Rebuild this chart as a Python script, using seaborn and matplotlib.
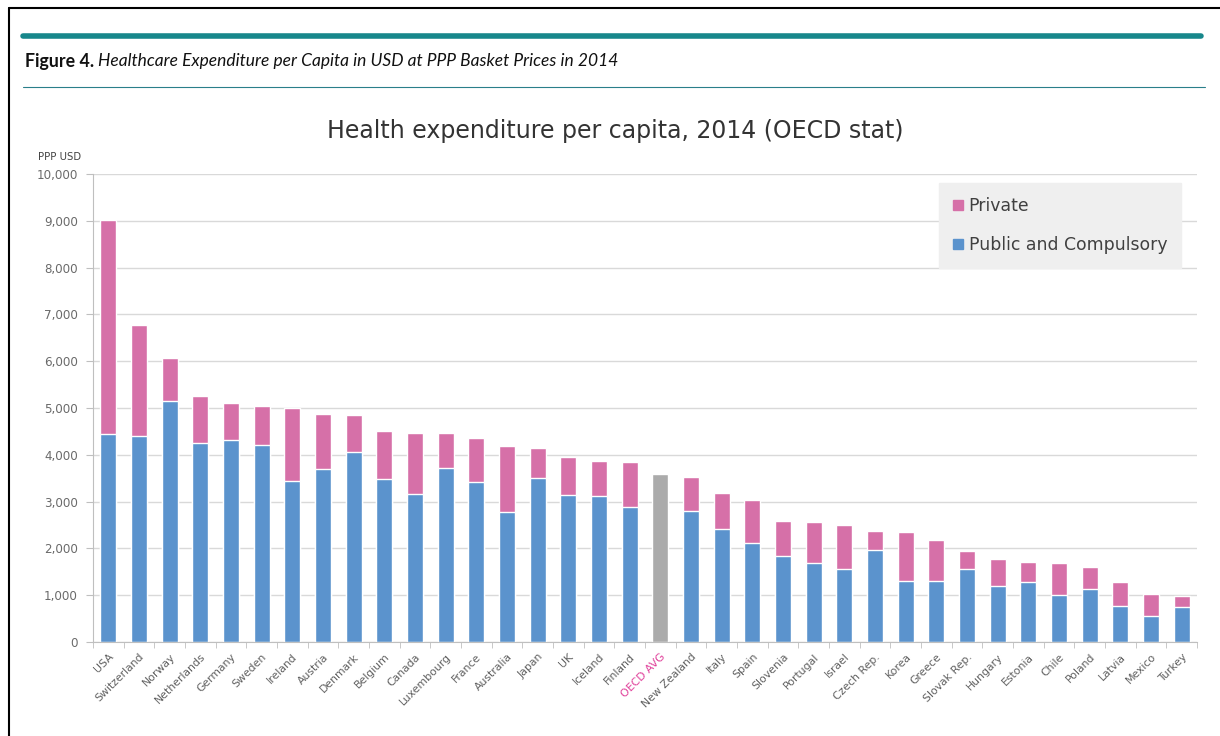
import numpy as np
import pandas as pd
import seaborn as sns
import matplotlib.pyplot as plt
from matplotlib.lines import Line2D
from matplotlib.patches import Patch
from matplotlib.ticker import FuncFormatter, FixedLocator

sns.set_style('white')
plt.rcParams['font.family'] = ['DejaVu Sans']

countries = ['USA', 'Switzerland', 'Norway', 'Netherlands', 'Germany', 'Sweden', 'Ireland',
             'Austria', 'Denmark', 'Belgium', 'Canada', 'Luxembourg', 'France', 'Australia',
             'Japan', 'UK', 'Iceland', 'Finland', 'OECD AVG', 'New Zealand', 'Italy', 'Spain',
             'Slovenia', 'Portugal', 'Israel', 'Czech Rep.', 'Korea', 'Greece', 'Slovak Rep.',
             'Hungary', 'Estonia', 'Chile', 'Poland', 'Latvia', 'Mexico', 'Turkey']
public = [4440, 4410, 5160, 4245, 4315, 4200, 3440, 3690, 4065, 3490, 3160, 3710, 3410, 2780,
          3495, 3140, 3125, 2890, np.nan, 2800, 2405, 2120, 1835, 1690, 1550, 1975, 1305, 1305,
          1570, 1190, 1285, 1000, 1140, 765, 550, 750]
private = [4580, 2360, 900, 1015, 785, 850, 1550, 1190, 775, 1020, 1310, 750, 940, 1410,
           645, 805, 750, 955, np.nan, 720, 785, 910, 755, 875, 950, 395, 1035, 870,
           380, 585, 420, 680, 465, 520, 485, 230]
oecd_avg = 3600
yticks = [0, 1000, 2000, 3000, 4000, 5000, 6000, 7000, 8000, 9000, 10000]

blue = '#5b93cd'
pink = '#d670a8'
grey_bar = '#ababab'

df = pd.DataFrame({'country': countries, 'public': public, 'private': private})
df['total'] = df['public'] + df['private']
df.loc[df['country'] == 'OECD AVG', 'total'] = oecd_avg

fig = plt.figure(figsize=(12.2, 7.36), dpi=100)
ax = fig.add_axes([93 / 1220, 94 / 736, 1104 / 1220, 468 / 736])

pal = {c: (grey_bar if c == 'OECD AVG' else pink) for c in countries}
sns.barplot(data=df, x='country', y='total', hue='country', palette=pal, order=countries,
            width=0.53, legend=False, saturation=1, ax=ax)
sns.barplot(data=df, x='country', y='public', color=blue, order=countries,
            width=0.53, saturation=1, ax=ax)

ax.set_xlim(-0.5, len(countries) - 0.5)
ax.set_ylim(0, 10000)
ax.set_yticks(yticks)
ax.yaxis.set_major_formatter(FuncFormatter(lambda v, p: f'{int(v):,}'))
ax.grid(axis='y', color='#d9d9d9', linewidth=1)
ax.set_axisbelow(True)
ax.set_xlabel('')
ax.set_ylabel('')

ax.set_xticks(range(len(countries)))
ax.set_xticklabels(countries, rotation=45, ha='right', rotation_mode='anchor', fontsize=7.8, color='#606060')
ax.xaxis.set_minor_locator(FixedLocator(np.arange(-0.5, len(countries), 1)))
ax.tick_params(axis='x', which='major', length=0, pad=7)
ax.tick_params(axis='x', which='minor', length=4, color='#bfbfbf', direction='out', bottom=True)
ax.tick_params(axis='y', length=5, color='#bfbfbf', direction='out', left=True, labelsize=8.6,
               labelcolor='#6a6a6a', pad=6)
for lbl in ax.get_xticklabels():
    if lbl.get_text() == 'OECD AVG':
        lbl.set_color('#e0409a')

sns.despine(ax=ax, top=True, right=True)
ax.spines['left'].set_color('#bfbfbf')
ax.spines['bottom'].set_color('#bfbfbf')

handles = [Patch(color=pink, label='Private'), Patch(color=blue, label='Public and Compulsory')]
leg = ax.legend(handles=handles, loc='upper right', bbox_to_anchor=(0.9855, 0.98), fontsize=12.4,
                frameon=True, fancybox=False, facecolor='#efefef', edgecolor='#efefef', framealpha=1,
                handlelength=0.55, handleheight=0.55, handletextpad=0.35, labelspacing=1.2,
                borderpad=0.8, borderaxespad=0)
for t in leg.get_texts():
    t.set_color('#404040')

fig.text(615 / 1220, 1 - 131 / 736, 'Health expenditure per capita, 2014 (OECD stat)',
         ha='center', va='center', fontsize=17, color='#333333')
fig.text(81 / 1220, 1 - 157 / 736, 'PPP USD', ha='right', va='center', fontsize=7.3, color='#404040')

# page decoration
fig.add_artist(Line2D([9 / 1220, 1], [1 - 8 / 736, 1 - 8 / 736], color='black', lw=1.5))
fig.add_artist(Line2D([9 / 1220, 9 / 1220], [0, 1 - 8 / 736], color='black', lw=1.5))
fig.add_artist(Line2D([23 / 1220, 1201 / 1220], [1 - 35.5 / 736, 1 - 35.5 / 736], color='#17878b', lw=4))
fig.add_artist(Line2D([23 / 1220, 1205 / 1220], [1 - 87 / 736, 1 - 87 / 736], color='#2a7f8a', lw=0.8))

cap = fig.text(25 / 1220, 1 - 61 / 736, 'Figure 4.', ha='left', va='center', fontsize=12.8,
               fontweight='bold', family='Lato', color='#111111')
ax.annotate('Healthcare Expenditure per Capita in USD at PPP Basket Prices in 2014',
            xy=(1, 0.5), xycoords=cap, xytext=(3, 0), textcoords='offset points',
            ha='left', va='center', fontsize=12.5, fontstyle='italic', family='Lato',
            color='#111111', annotation_clip=False)

fig.savefig('out.png', dpi=100)
